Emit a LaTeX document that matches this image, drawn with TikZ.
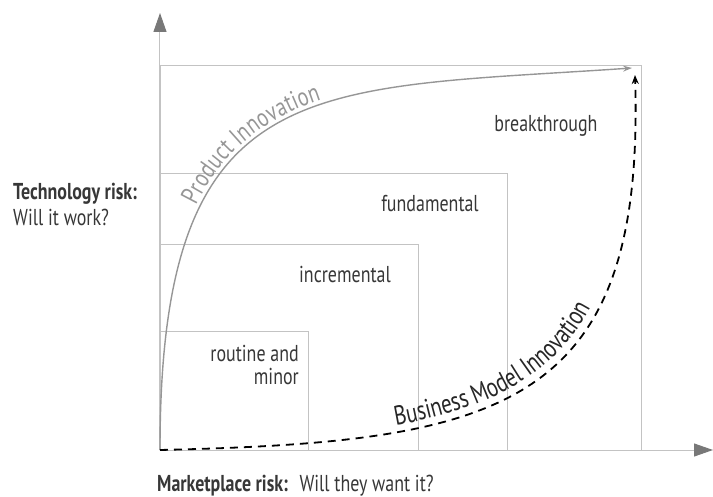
\documentclass[tikz,border=0pt]{standalone}
\usepackage{fontspec}
\setmainfont{PT Sans}[FakeStretch=0.78]
\usetikzlibrary{arrows.meta,calc,decorations.text}
\definecolor{AxisClr}{RGB}{120,120,120}
\definecolor{BoxClr}{RGB}{195,195,195}
\definecolor{CurveClr}{RGB}{150,150,150}
\definecolor{TextClr}{RGB}{55,55,55}

\begin{document}
\begin{tikzpicture}[x=1pt,y=1pt,
  box/.style={draw=BoxClr,line width=0.9pt},
  axis/.style={draw=BoxClr,line width=1pt,-{Triangle[length=19pt,width=13pt,color=AxisClr]}},
  zone/.style={font=\fontsize{23}{23}\selectfont,text=TextClr,inner sep=0pt},
  risk/.style={font=\fontsize{23}{26}\selectfont,text=TextClr,inner sep=0pt}]
\useasboundingbox (-160,-46) rectangle (553,450);

% Corners of the four zones, all share the origin.
\coordinate (O) at (0,0);
\coordinate (routine) at (148,119);
\coordinate (incr) at (258,206);
\coordinate (fund) at (347,277);
\coordinate (brk) at (481,385);

% End points of the two curves.
\coordinate (pend) at (472,382);
\coordinate (bend) at (475,375);

\draw[box] (O) rectangle (routine);
\draw[box] (O) rectangle (incr);
\draw[box] (O) rectangle (fund);
\draw[box] (O) rectangle (brk);

% Axes.
\coordinate (ytop) at (0,437);
\coordinate (xend) at (553,0);
\draw[axis] (O) -- (ytop);
\draw[axis] (O) -- (xend);

% Zone labels.
\node[zone] (breakthrough) at (386,324) {breakthrough};
\node[zone] (fundamental) at (270,246) {fundamental};
\node[zone] (incremental) at (185,176) {incremental};
\node[zone,align=right,anchor=east] (minor) at (139,85) {routine and\\minor};

% Product innovation curve.
\draw[CurveClr,line width=1.4pt,-{Stealth[length=9pt,width=6pt]}]
  (O) .. controls (0,380) and (150,360) .. (pend);
\path[decorate,decoration={text along path,
  text={|\fontsize{26}{26}\selectfont\color{CurveClr}|Product Innovation},
  text align={left indent=248pt},raise=4pt}]
  (O) .. controls (0,380) and (150,360) .. (pend);

% Business model innovation curve.
\draw[black,line width=1.8pt,dash pattern=on 8pt off 6pt,-{Stealth[length=9pt,width=7pt]}]
  (O) .. controls (340,8) and (485,40) .. (bend);
\path[decorate,decoration={text along path,
  text={|\fontsize{27}{27}\selectfont\color{black!85}|Business Model Innovation},
  text align={left indent=238pt},raise=7pt}]
  (O) .. controls (340,8) and (485,40) .. (bend);

% Axis captions.
\node[risk,anchor=base west,align=left] (tech) at (-147,224)
  {\textbf{Technology risk:}\\Will it work?};
\node[risk,anchor=base west] (market) at (-3,-41)
  {\textbf{Marketplace risk:}\enspace Will they want it?};
\end{tikzpicture}
\end{document}
